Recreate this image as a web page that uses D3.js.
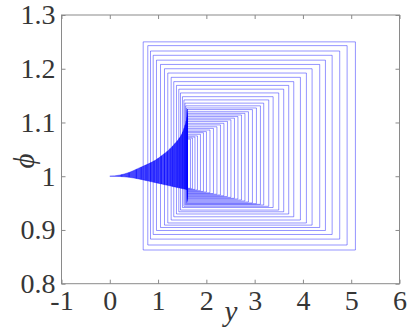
<!DOCTYPE html>
<html><head><meta charset="utf-8">
<script src="https://cdn.jsdelivr.net/npm/d3@7/dist/d3.min.js"></script>
<style>html,body{margin:0;padding:0;background:#fff;}svg{display:block;}
svg text{font-family:"Liberation Serif","Times New Roman",serif;}</style>
</head><body>
<svg id="chart" width="408" height="329"></svg>
<script>
// ---- data ----
const xTicks = [-1, 0, 1, 2, 3, 4, 5, 6];
const yTicks = [0.8, 0.9, 1, 1.1, 1.2, 1.3];
const xTickLabels = ["-1", "0", "1", "2", "3", "4", "5", "6"];
const yTickLabels = ["0.8", "0.9", "1", "1.1", "1.2", "1.3"];

// nested loops (left, right, top, bottom), outermost first
const rectLeft = [0.692,0.787,0.843,0.899,0.967,1.050,1.133,1.201,1.271,1.325,1.381,1.429,1.464,1.505,1.536,1.557,1.573,1.588,1.598,1.605,
  1.609,1.609,1.609,1.609,1.609,1.609,1.609,1.609,1.609,1.609,1.609,1.609,1.609,1.609,1.609,1.609,1.609,1.609];
const rectRight = [5.087,4.915,4.762,4.605,4.466,4.348,4.190,4.072,3.948,3.810,3.706,3.602,3.499,3.383,3.292,3.188,3.120,3.037,2.954,2.872,
  2.799,2.727,2.654,2.582,2.509,2.437,2.364,2.292,2.219,2.147,2.075,2.002,1.940,1.878,1.816,1.764,1.712,1.671];
const rectTop = [1.250,1.243,1.233,1.225,1.216,1.208,1.200,1.192,1.184,1.176,1.169,1.162,1.155,1.148,1.142,1.136,1.131,1.127,1.124,1.120,
  1.117,1.114,1.111,1.108,1.105,1.102,1.0985,1.0955,1.092,1.089,1.086,1.083,1.081,1.078,1.075,1.073,1.071,1.069];
const rectBottom = [0.8627,0.872,0.883,0.8916,0.899,0.9046,0.909,0.913,0.9185,0.9245,0.9297,0.9338,0.937,0.9418,0.944,0.9464,0.9477,0.9489,0.9502,0.952,
  0.9539,0.9558,0.9576,0.9589,0.9606,0.9623,0.9636,0.9651,0.9665,0.9678,0.9691,0.9706,0.9718,0.9731,0.9744,0.9755,0.9766,0.9775];

// fan (cusp) from the origin point (0, 1)
const fanY     = [0, 0.2, 0.4, 0.6, 0.8, 0.95, 1.1, 1.2, 1.3, 1.4, 1.5, 1.55, 1.6, 1.61];
const fanUpper = [1, 1.002, 1.007, 1.015, 1.023, 1.030, 1.040, 1.047, 1.056, 1.066, 1.080, 1.092, 1.110, 1.125];
const fanLower = [1, 0.9995, 0.998, 0.995, 0.991, 0.988, 0.985, 0.983, 0.981, 0.979, 0.977, 0.976, 0.975, 0.974];
const fanStripes = [0.25,0.4,0.55,0.65,0.75,0.85,0.92,1.0,1.07,1.13,1.19,1.25,1.3,1.35,1.4,1.44,1.48,1.51,1.54,1.56,1.58,1.6];

// ---- drawing ----
const svg = d3.select("#chart");
const x = d3.scaleLinear().domain([-1, 6]).range([61.5, 399.5]);
const y = d3.scaleLinear().domain([0.8, 1.3]).range([283.7, 15]);
const upAt = d3.scaleLinear().domain(fanY).range(fanUpper);
const loAt = d3.scaleLinear().domain(fanY).range(fanLower);

const plot = svg.append("g");

// rectangles
const rects = rectLeft.map((l, i) => ({l, r: rectRight[i], t: rectTop[i], b: rectBottom[i]}));
plot.selectAll("path.loop").data(rects).enter().append("path")
  .attr("class", "loop")
  .attr("d", d => d3.line()([[x(d.l), y(d.t)], [x(d.r), y(d.t)], [x(d.r), y(d.b)], [x(d.l), y(d.b)]]) + "Z")
  .attr("fill", "none").attr("stroke", "#0000ff").attr("stroke-opacity", 0.42).attr("stroke-width", 1);

// fan area
const fanPts = fanY.map((v, i) => ({y: v, u: fanUpper[i], lo: fanLower[i]}));
plot.append("path").datum(fanPts)
  .attr("d", d3.area().x(d => x(d.y)).y0(d => y(d.lo)).y1(d => y(d.u)).curve(d3.curveMonotoneX))
  .attr("fill", "#0000ff").attr("fill-opacity", 0.72).attr("stroke", "#0000ff").attr("stroke-opacity", 0.5).attr("stroke-width", 0.8);

plot.selectAll("line.stripe").data(fanStripes).enter().append("line")
  .attr("class", "stripe")
  .attr("x1", d => x(d)).attr("x2", d => x(d))
  .attr("y1", d => y(upAt(d))).attr("y2", d => y(loAt(d)))
  .attr("stroke", "#0000ff").attr("stroke-opacity", 0.6).attr("stroke-width", 1);

// axes box
const axisColor = "#8a8a8a";
const textColor = "#363636";
svg.append("rect").attr("x", x(-1)).attr("y", y(1.3)).attr("width", x(6) - x(-1)).attr("height", y(0.8) - y(1.3))
  .attr("fill", "none").attr("stroke", axisColor).attr("stroke-width", 1);

function styleAxis(g) {
  g.select(".domain").remove();
  g.attr("font-family", null).attr("font-size", null);
  g.selectAll(".tick line").attr("stroke", axisColor);
  g.selectAll(".tick text").attr("fill", textColor).attr("font-size", 28);
}
svg.append("g").attr("transform", `translate(0,${y(0.8)})`)
  .call(d3.axisBottom(x).tickValues(xTicks).tickSize(-4).tickPadding(6).tickFormat((d, i) => xTickLabels[i]))
  .call(styleAxis);
svg.append("g").attr("transform", `translate(0,${y(1.3)})`)
  .call(d3.axisTop(x).tickValues(xTicks).tickSize(-4).tickFormat(""))
  .call(styleAxis);
svg.append("g").attr("transform", `translate(${x(-1)},0)`)
  .call(d3.axisLeft(y).tickValues(yTicks).tickSize(-4).tickPadding(6).tickFormat((d, i) => yTickLabels[i]))
  .call(styleAxis);
svg.append("g").attr("transform", `translate(${x(6)},0)`)
  .call(d3.axisRight(y).tickValues(yTicks).tickSize(-4).tickFormat(""))
  .call(styleAxis);

// axis labels
svg.append("text").attr("x", 231).attr("y", 321).attr("text-anchor", "middle")
  .attr("font-size", 29).attr("font-style", "italic").attr("fill", textColor).text("y");
svg.append("text").attr("transform", "translate(34,161) rotate(-90)").attr("text-anchor", "middle")
  .attr("font-size", 29).attr("font-style", "italic").attr("fill", textColor).text("ϕ");
</script>
</body></html>
